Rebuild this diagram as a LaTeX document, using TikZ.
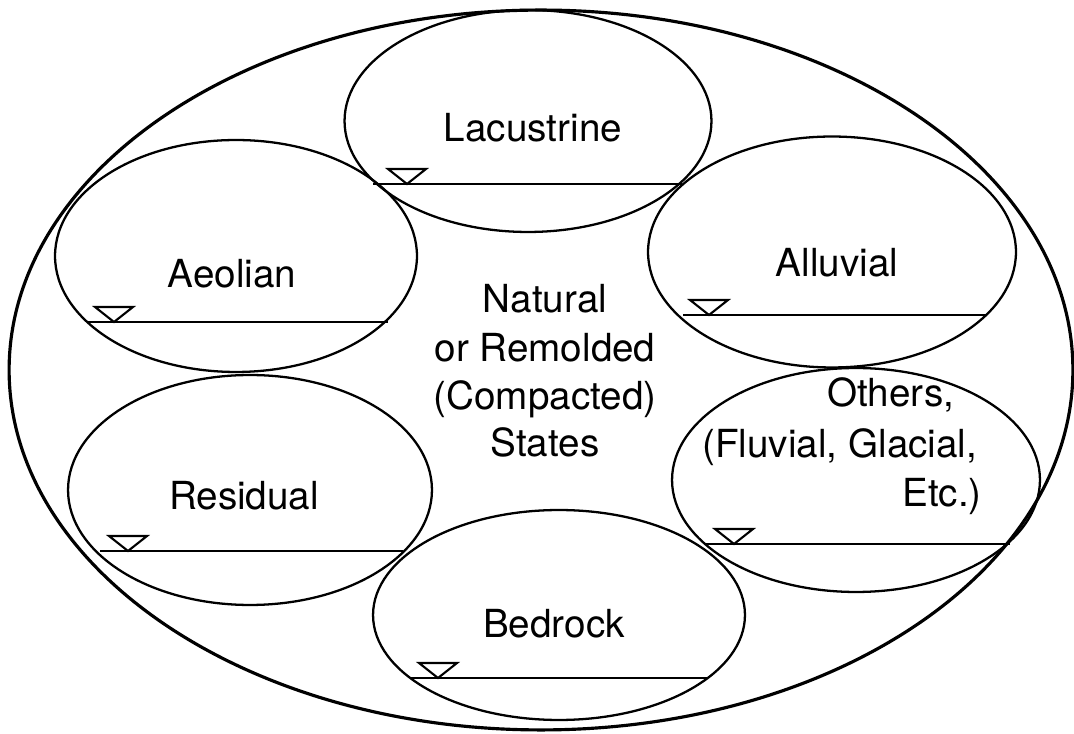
\documentclass[tikz,border=0pt]{standalone}
\usepackage{fontspec}
\setmainfont{TeX Gyre Heros}
\usepackage{tikz}
\usetikzlibrary{shapes.geometric,positioning}
\tikzset{
  soil/.style 2 args={ellipse, draw=black, line width=1.3pt, inner sep=0pt,
                      minimum width=#1, minimum height=#2},
  outer/.style ={ellipse, draw=black, line width=1.8pt, inner sep=0pt,
                 minimum width=21.28cm, minimum height=14.4cm},
  lbl/.style   ={inner sep=0pt, anchor=base, font=\fontsize{22}{27}\selectfont},
  lblw/.style  ={lbl, anchor=base west},
  wline/.style ={line width=1.4pt},
  wt/.pic      ={\draw[line width=1.2pt] (-19,15) -- (19,15) -- (0,0) -- cycle;},
}

\begin{document}
\begin{tikzpicture}[x=0.02cm, y=0.02cm]
  \useasboundingbox (0,0) rectangle (1074,733);
  % surrounding ellipse
  \node[outer] (all) at (541,363) {};
  % soil origins
  \node[soil={7.34cm}{4.44cm}] (lac) at (528,612) {};
  \node[soil={7.24cm}{4.64cm}] (aeo) at (236,477) {};
  \node[soil={7.36cm}{4.62cm}] (alu) at (832,481) {};
  \node[soil={7.28cm}{4.60cm}] (res) at (250,243) {};
  \node[soil={7.36cm}{4.48cm}] (oth) at (856,253) {};
  \node[soil={7.44cm}{4.20cm}] (bed) at (559,118) {};
  % water tables
  \draw[wline] (373,549) -- (682,549);  \pic at (407,549) {wt};
  \draw[wline] (88,411)  -- (388,411);  \pic at (114,411) {wt};
  \draw[wline] (683,418) -- (987,418);  \pic at (709,418) {wt};
  \draw[wline] (100,182) -- (403,182);  \pic at (128,182) {wt};
  \draw[wline] (705,189) -- (1010,189); \pic at (734,189) {wt};
  \draw[wline] (410,55)  -- (708,55);   \pic at (438,55)  {wt};
  % labels
  \node[lbl] (laclbl) at (533,591) {Lacustrine};
  \node[lbl] (aeolbl) at (232,445) {Aeolian};
  \node[lbl] (alulbl) at (837,456) {Alluvial};
  \node[lbl] (reslbl) at (244,223) {Residual};
  \node[lbl] (bedlbl) at (554,95)  {Bedrock};
  \node[lblw] (oth1) at (827,326) {Others,};
  \node[lblw] (oth2) at (702,275) {(Fluvial, Glacial,};
  \node[lblw] (oth3) at (902,226) {Etc.)};
  \foreach \txt/\yy [count=\i] in {Natural/420, or Remolded/371, (Compacted)/323, States/276}
    \node[lbl] (state\i) at (545,\yy) {\txt};
\end{tikzpicture}
\end{document}
